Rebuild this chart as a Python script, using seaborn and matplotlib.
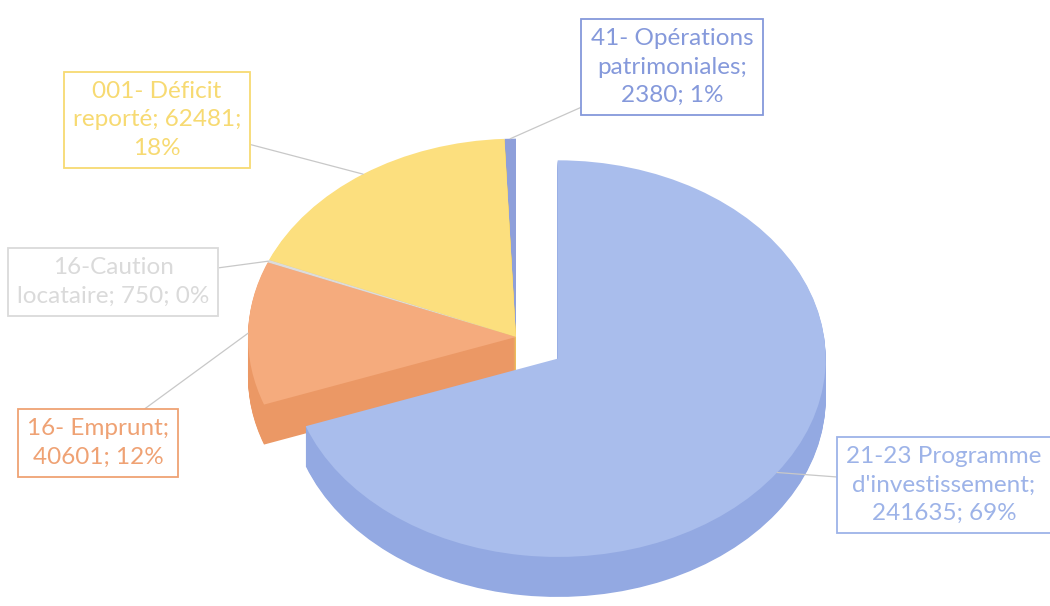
import matplotlib
matplotlib.use("Agg")
import numpy as np
import matplotlib.pyplot as plt
import seaborn as sns

# ------ DATA ------ #

categories = ["21-23 Programme d'investissement", "16- Emprunt",
              "16-Caution locataire", "001- Déficit reporté",
              "41- Opérations patrimoniales"]
values = [241635, 40601, 750, 62481, 2380]
labels = [
    "21-23 Programme\nd'investissement;\n241635; 69%",
    "16- Emprunt;\n40601; 12%",
    "16-Caution\nlocataire; 750; 0%",
    "001- Déficit\nreporté; 62481;\n18%",
    "41- Opérations\npatrimoniales;\n2380; 1%",
]

# ------ STYLE ------ #

sns.set_theme(style="white")
plt.rcParams['font.family'] = ['Lato', 'DejaVu Sans']

top_colors = ["#A9BDEC", "#F5AB7D", "#DCDCDC", "#FCDF7E", "#8E9FDA"]
side_colors = ["#93A9E2", "#EB9865", "#C9C9C9", "#EFCD5B", "#7B8DCF"]
text_colors = ["#9DB3E8", "#EFA274", "#DADADA", "#F7DA72", "#8599DB"]
rank = [4, 3, 2, 1, 0]          # painter order, back to front

W, H = 1050, 606
K = 0.74                        # vertical squash of the tilted pie
cx, cy = 516, (H - 337) / K
radius = 268
explode = [0.19 * radius, 0, 0, 0, 0]   # pie() takes data units
depth = 40 / K
n_layers = 40

fig = plt.figure(figsize=(W / 100, H / 100), dpi=100)
ax = fig.add_axes([0, 0, 1, 1])

# ------ 3D PIE (stacked layers) ------ #

top_wedges = None
for i in range(n_layers + 1):
    dy = depth * (1 - i / n_layers)
    cols = top_colors if i == n_layers else side_colors
    wedges, _ = ax.pie(values, colors=cols, startangle=90, counterclock=False,
                       explode=explode, center=(cx, cy - dy), radius=radius,
                       frame=True, wedgeprops=dict(linewidth=0, edgecolor="none"))
    for j, w in enumerate(wedges):
        w.set_zorder(rank[j] * 100 + i)
    if i == n_layers:
        top_wedges = wedges

ax.set_aspect("auto")
ax.set_xlim(0, W)
ax.set_ylim(0, H / K)
ax.axis("off")

# ------ LABELS ------ #

box_pos = [(944, 485), (98, 443), (113, 282), (157, 120), (672, 67)]

for j, w in enumerate(top_wedges):
    theta = np.deg2rad((w.theta1 + w.theta2) / 2)
    x0, y0 = w.center
    tip = (x0 + w.r * np.cos(theta), y0 + w.r * np.sin(theta))
    tx, ty = box_pos[j]
    ax.annotate(labels[j], xy=tip, xycoords="data",
                xytext=(tx, H - ty), textcoords="figure pixels",
                ha="center", va="center", color=text_colors[j],
                fontsize=17.5, linespacing=1.42,
                bbox=dict(boxstyle="square,pad=0.38", fc="white",
                          ec=text_colors[j], lw=1.3),
                arrowprops=dict(arrowstyle="-", color="#C8C8C8", lw=0.9,
                                shrinkA=0, shrinkB=0),
                zorder=1000)

fig.savefig("out.png", dpi=100)
